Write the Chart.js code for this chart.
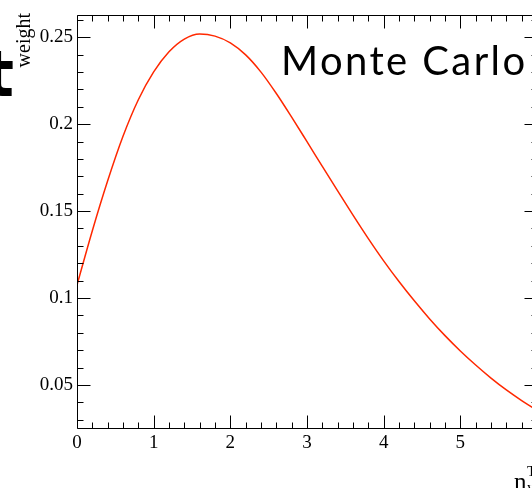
<!DOCTYPE html>
<html>
<head>
<meta charset="utf-8">
<script src="https://cdn.jsdelivr.net/npm/chart.js@4"></script>
<style>
  html, body { margin: 0; padding: 0; background: #fff; overflow: hidden; }
  #wrap { width: 532px; height: 488px; overflow: hidden; }
</style>
</head>
<body>
<div id="wrap">
  <canvas id="chart" width="600" height="488"></canvas>
</div>
<script>
// values
const xValues = [0, 0.2, 0.4, 0.6, 0.8, 1.0, 1.2, 1.4, 1.6, 1.8, 2.0, 2.2, 2.4, 2.6, 2.8, 3.0,
  3.2, 3.4, 3.6, 3.8, 4.0, 4.2, 4.4, 4.6, 4.8, 5.0, 5.2, 5.4, 5.6, 5.8, 6.0];
const weights = [0.1075, 0.1387, 0.1674, 0.1930, 0.2140, 0.2300, 0.2416, 0.2489, 0.2518, 0.2506,
  0.2467, 0.2398, 0.2299, 0.2176, 0.2040, 0.1899, 0.1757, 0.1616, 0.1477, 0.1342, 0.1214,
  0.1095, 0.0984, 0.0880, 0.0784, 0.0696, 0.0615, 0.0540, 0.0472, 0.0411, 0.0355];

const xTicks = [0, 1, 2, 3, 4, 5, 6];
const xTickLabels = ["0", "1", "2", "3", "4", "5", "6"];
const yTicks = [0.05, 0.1, 0.15, 0.2, 0.25];
const yTickLabels = ["0.05", "0.1", "0.15", "0.2", "0.25"];

const X_MIN = 0, X_MAX = 6;
const Y_MIN = 0.0253, Y_MAX = 0.2625;
const X_MINOR_STEP = 0.2, Y_MINOR_STEP = 0.01;

const serif = "'Liberation Serif', 'DejaVu Serif', serif";

// ROOT-style frame with ticks pointing inward on all four sides
const frameTicks = {
  id: "frameTicks",
  afterDraw(chart) {
    const { ctx, chartArea: a, scales: { x, y } } = chart;
    ctx.save();
    ctx.strokeStyle = "#000";
    ctx.lineWidth = 1;
    ctx.beginPath();
    const L = Math.round(a.left) + 0.5, R = Math.round(a.right) + 0.5;
    const T = Math.round(a.top) + 0.5, B = Math.round(a.bottom) + 0.5;
    ctx.rect(L, T, R - L, B - T);

    // x ticks
    for (let v = X_MIN; v <= X_MAX + 1e-9; v += X_MINOR_STEP) {
      const major = Math.abs(v - Math.round(v)) < 1e-6;
      const len = major ? 13 : 6;
      const px = Math.round(x.getPixelForValue(v)) + 0.5;
      ctx.moveTo(px, B); ctx.lineTo(px, B - len);
      ctx.moveTo(px, T); ctx.lineTo(px, T + len);
    }
    // y ticks
    const start = Math.ceil(Y_MIN / Y_MINOR_STEP) * Y_MINOR_STEP;
    for (let v = start; v <= Y_MAX + 1e-9; v += Y_MINOR_STEP) {
      const major = yTicks.some(t => Math.abs(t - v) < 1e-6);
      const len = major ? 13 : 6;
      const py = Math.round(y.getPixelForValue(v)) + 0.5;
      ctx.moveTo(L, py); ctx.lineTo(L + len, py);
      ctx.moveTo(R, py); ctx.lineTo(R - len, py);
    }
    ctx.stroke();

    // axis titles
    ctx.fillStyle = "#000";
    ctx.font = "20px " + serif;
    ctx.save();
    ctx.translate(29.5, 13);
    ctx.rotate(-Math.PI / 2);
    ctx.textAlign = "right";
    ctx.textBaseline = "alphabetic";
    ctx.fillText("weight", 0, 0);
    ctx.restore();

    ctx.textAlign = "left";
    ctx.textBaseline = "alphabetic";
    ctx.font = "25px " + serif;
    ctx.fillText("n", 514, 490);
    ctx.font = "15px " + serif;
    ctx.fillText("T", 527, 476);
    ctx.fillText("y", 527, 492);

    // label text
    ctx.font = "40px Lato, 'Noto Sans', sans-serif";
    ctx.letterSpacing = "2.4px";
    ctx.fillText("Monte Carlo", 281, 75);
    ctx.letterSpacing = "0px";

    ctx.font = "bold 64px 'DejaVu Sans', sans-serif";
    ctx.textAlign = "right";
    ctx.fillText("t", 14, 96);
    ctx.restore();
  }
};

const ctx = document.getElementById("chart").getContext("2d");
const chart = new Chart(ctx, {
  type: "line",
  data: {
    datasets: [
      {
        label: "Monte Carlo",
        data: xValues.map((v, i) => ({ x: v, y: weights[i] })),
        borderColor: "rgb(255, 40, 0)",
        borderWidth: 1.5,
        pointRadius: 0,
        cubicInterpolationMode: "monotone",
        fill: false,
      },
    ],
  },
  options: {
    responsive: false,
    animation: false,
    devicePixelRatio: 1,
    layout: { padding: { top: 13, right: 63, left: 0, bottom: 0 } },
    plugins: { legend: { display: false }, tooltip: { enabled: false } },
    scales: {
      x: {
        type: "linear",
        min: X_MIN,
        max: X_MAX,
        grid: { display: false, drawTicks: false },
        border: { display: false },
        afterBuildTicks: (scale) => { scale.ticks = xTicks.map(v => ({ value: v })); },
        afterFit: (scale) => { scale.height = 60; },
        ticks: {
          color: "#000",
          font: { family: serif, size: 19 },
          padding: 4,
          maxRotation: 0,
          autoSkip: false,
          callback: (v) => xTickLabels[xTicks.indexOf(v)],
        },
      },
      y: {
        min: Y_MIN,
        max: Y_MAX,
        grid: { display: false, drawTicks: false },
        border: { display: false },
        afterBuildTicks: (scale) => { scale.ticks = yTicks.map(v => ({ value: v })); },
        afterFit: (scale) => { scale.width = 77; },
        ticks: {
          color: "#000",
          font: { family: serif, size: 19 },
          padding: 4,
          autoSkip: false,
          callback: (v) => yTickLabels[yTicks.indexOf(v)],
        },
      },
    },
  },
  plugins: [frameTicks],
});
</script>
</body>
</html>
